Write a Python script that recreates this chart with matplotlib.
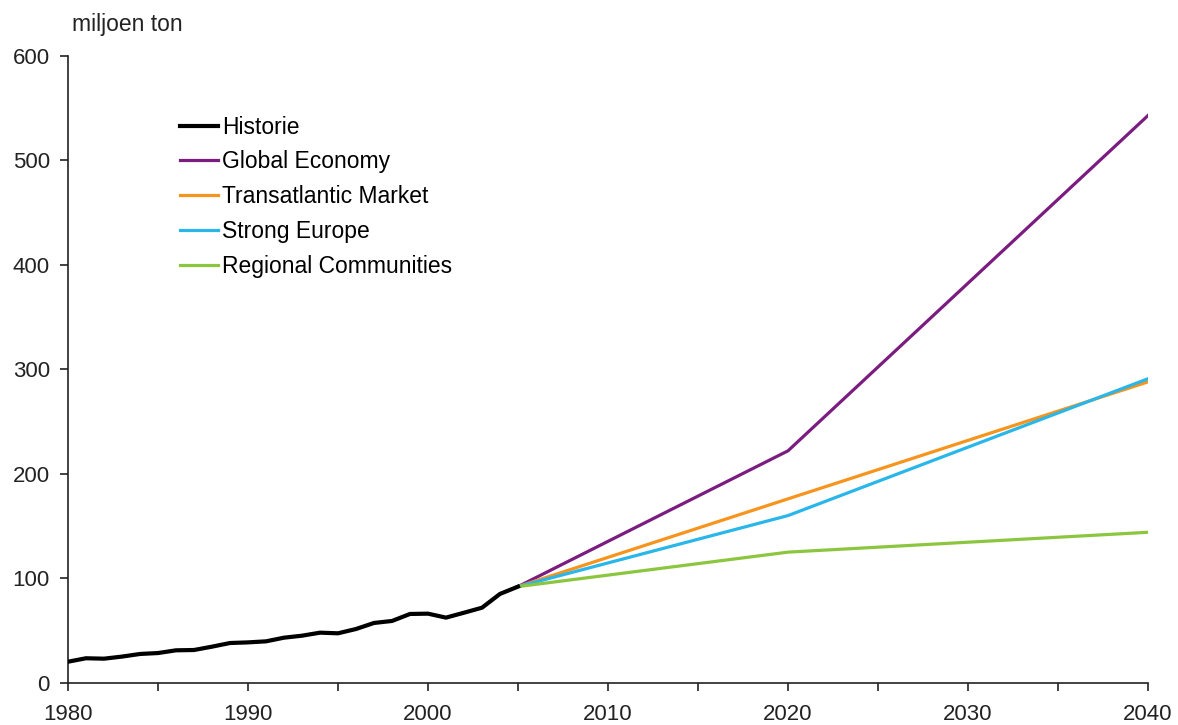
import matplotlib
matplotlib.use("Agg")
import matplotlib.pyplot as plt
from matplotlib.ticker import MultipleLocator

plt.rcParams['font.family'] = ['Liberation Sans', 'DejaVu Sans']

hist_years = list(range(1980, 2006))
hist_vals = [20.1, 23.4, 23.0, 25.0, 27.5, 28.4, 31.0, 31.3, 34.5, 38.0,
             38.6, 39.6, 43.1, 45.0, 47.9, 47.3, 51.4, 57.2, 59.1, 65.8,
             66.1, 62.3, 67.0, 71.8, 85.0, 92.0]

scen_years = [2005, 2020, 2040]
global_economy = [92, 222, 543]
transatlantic = [92, 176, 288]
strong_europe = [92, 160, 291]
regional = [92, 125, 144]

labels = ["Historie", "Global Economy", "Transatlantic Market", "Strong Europe", "Regional Communities"]
colors = ["#000000", "#7B1C80", "#F7941D", "#29B6E9", "#8CC63F"]

fig = plt.figure(figsize=(11.78, 7.25), dpi=100)
ax = fig.add_axes([68/1178, 1 - 682.7/725, 1080/1178, 626.7/725])

ax.plot(hist_years, hist_vals, color=colors[0], lw=3.0, label=labels[0], zorder=5)
ax.plot(scen_years, global_economy, color=colors[1], lw=2.3, label=labels[1])
ax.plot(scen_years, transatlantic, color=colors[2], lw=2.3, label=labels[2])
ax.plot(scen_years, strong_europe, color=colors[3], lw=2.3, label=labels[3])
ax.plot(scen_years, regional, color=colors[4], lw=2.3, label=labels[4])

ax.set_xlim(1980, 2040)
ax.set_ylim(0, 600)
ax.xaxis.set_major_locator(MultipleLocator(10))
ax.xaxis.set_minor_locator(MultipleLocator(5))
ax.yaxis.set_major_locator(MultipleLocator(100))
for s in ["top", "right"]:
    ax.spines[s].set_visible(False)
for s in ["left", "bottom"]:
    ax.spines[s].set_linewidth(1.2)
    ax.spines[s].set_color("#222222")
ax.tick_params(axis='both', which='major', direction='out', length=6, width=1.2,
               labelsize=16, colors="#222222")
ax.tick_params(axis='x', which='major', pad=9)
ax.tick_params(axis='y', which='major', pad=7)
ax.tick_params(axis='x', which='minor', direction='out', length=6, width=1.2, colors="#222222")

leg = ax.legend(loc='upper left', bbox_to_anchor=(0.1037, 0.905), borderaxespad=0,
                borderpad=0, frameon=False, fontsize=16.5, handlelength=1.66,
                handletextpad=0.17, labelspacing=0.52)

fig.text(72/1178, 1 - 25/725, "miljoen ton", fontsize=16.5, color="#222222", va='center', ha='left')

fig.savefig("out.png", dpi=100)
